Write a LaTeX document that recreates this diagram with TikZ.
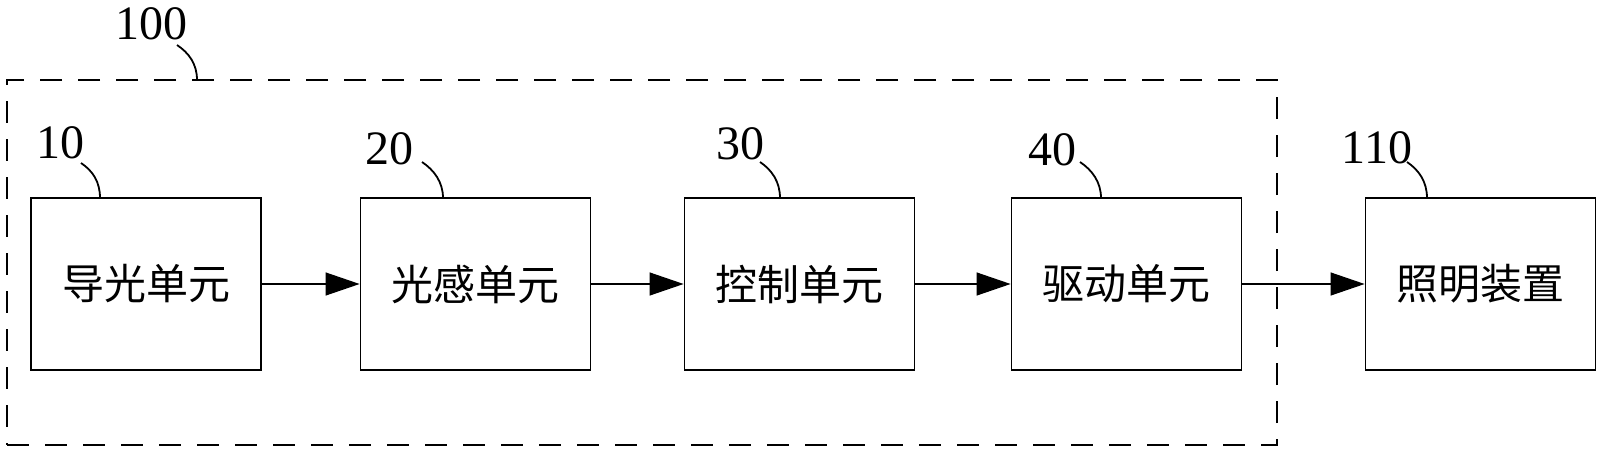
\documentclass[tikz,border=0pt]{standalone}
\usepackage{fontspec}
\setmainfont{Liberation Serif}
\newfontfamily\cjk{Noto Sans CJK SC}
\usetikzlibrary{arrows.meta}
\tikzset{
  unitbox/.style={draw, line width=0.9pt, minimum width=115pt, minimum height=86pt, inner sep=0pt, font=\cjk\fontsize{21}{21}\selectfont},
  refnum/.style={inner sep=0pt, font=\fontsize{24}{24}\selectfont},
  leader/.style={line width=0.9pt},
  flow/.style={line width=0.6pt, -{Triangle[length=17pt,width=11.5pt]}},
  frame/.style={draw, line width=0.8pt, dash pattern=on 11pt off 8pt, minimum width=635pt, minimum height=182.5pt, inner sep=0pt}
}
\begin{document}
\begin{tikzpicture}[x=0.5pt,y=-0.5pt]
\useasboundingbox (0,0) rectangle (1605,455);
\node[frame] (grp) at (642,262.5) {};
\node[unitbox] (b10) at (146,284) {导光单元};
\node[unitbox] (b20) at (475.5,284) {光感单元};
\node[unitbox] (b30) at (799.5,284) {控制单元};
\node[unitbox] (b40) at (1126.5,284) {驱动单元};
\node[unitbox] (b110) at (1480.5,284) {照明装置};
\node[refnum] (n100) at (151,24) {100};
\node[refnum] (n10) at (60,143) {10};
\node[refnum] (n20) at (389,149) {20};
\node[refnum] (n30) at (740,144) {30};
\node[refnum] (n40) at (1052,150) {40};
\node[refnum] (n110) at (1377,148) {110};
\coordinate (s100) at (177,45);  \coordinate (e100) at (197,80);
\coordinate (s10) at (81,163);   \coordinate (e10) at (100,198);
\coordinate (s20) at (422,162);  \coordinate (e20) at (443,198);
\coordinate (s30) at (760,162);  \coordinate (e30) at (780,198);
\coordinate (s40) at (1080,162); \coordinate (e40) at (1101,198);
\coordinate (s110) at (1407,162); \coordinate (e110) at (1427,198);
\foreach \k in {100,10,20,30,40,110}{
  \draw[leader] (s\k) .. controls +(12,8) and +(0,-16) .. (e\k);
}
\draw[flow] (b10) -- (b20);
\draw[flow] (b20) -- (b30);
\draw[flow] (b30) -- (b40);
\draw[flow] (b40) -- (b110);
\end{tikzpicture}
\end{document}
